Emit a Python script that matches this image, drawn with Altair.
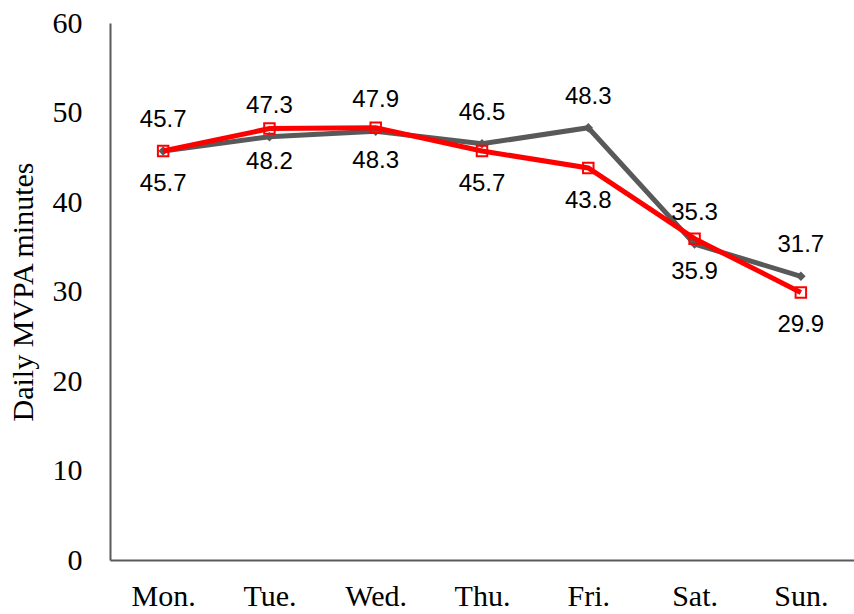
import altair as alt
import pandas as pd

days = ["Mon.", "Tue.", "Wed.", "Thu.", "Fri.", "Sat.", "Sun."]
gray_vals = [45.7, 47.3, 47.9, 46.5, 48.3, 35.3, 31.7]
red_vals = [45.7, 48.2, 48.3, 45.7, 43.8, 35.9, 29.9]

gray_df = pd.DataFrame({"day": days, "v": gray_vals})
red_df = pd.DataFrame({"day": days, "v": red_vals})

x = alt.X("day:N", sort=days, title=None,
          scale=alt.Scale(paddingInner=0, paddingOuter=0),
          axis=alt.Axis(labelFont="Liberation Serif", labelFontSize=30, labelColor="black",
                        labelAngle=0, ticks=False, domainColor="#595959", domainWidth=2,
                        labelPadding=21))
y = alt.Y("v:Q", title="Daily MVPA minutes",
          scale=alt.Scale(domain=[0, 60], nice=False),
          axis=alt.Axis(values=[0, 10, 20, 30, 40, 50, 60], grid=False, ticks=False,
                        domainColor="#595959", domainWidth=2,
                        labelFont="Liberation Serif", labelFontSize=30, labelColor="black",
                        labelPadding=28, titleFont="Liberation Serif", titleFontSize=30,
                        titleFontWeight="normal", titleColor="black", titlePadding=14))

gray_line = alt.Chart(gray_df).mark_line(color="#595959", strokeWidth=5).encode(x=x, y=y)
gray_pts = alt.Chart(gray_df).mark_point(shape="diamond", filled=True, color="#595959",
                                         size=90, opacity=1).encode(x=x, y=y)
gray_txt = alt.Chart(gray_df).mark_text(font="Liberation Sans", fontSize=24, dy=-31,
                                        baseline="middle", color="black").encode(
    x=x, y=y, text=alt.Text("v:Q", format=".1f"))

red_line = alt.Chart(red_df).mark_line(color="#FF0000", strokeWidth=5).encode(x=x, y=y)
red_pts = alt.Chart(red_df).mark_point(shape="square", filled=False, color="#FF0000",
                                       size=110, strokeWidth=2, opacity=1).encode(x=x, y=y)
red_txt = alt.Chart(red_df).mark_text(font="Liberation Sans", fontSize=24, dy=33,
                                      baseline="middle", color="black").encode(
    x=x, y=y, text=alt.Text("v:Q", format=".1f"))

chart = alt.layer(gray_line, gray_pts, red_line, red_pts, gray_txt, red_txt).properties(
    width=744, height=537,
    autosize=alt.AutoSizeParams(type="none"),
    padding={"left": 110, "top": 23, "right": 0, "bottom": 54},
    background="white",
).configure_view(stroke=None)

chart.save("out.html", embed_options={"renderer": "svg", "actions": False})
